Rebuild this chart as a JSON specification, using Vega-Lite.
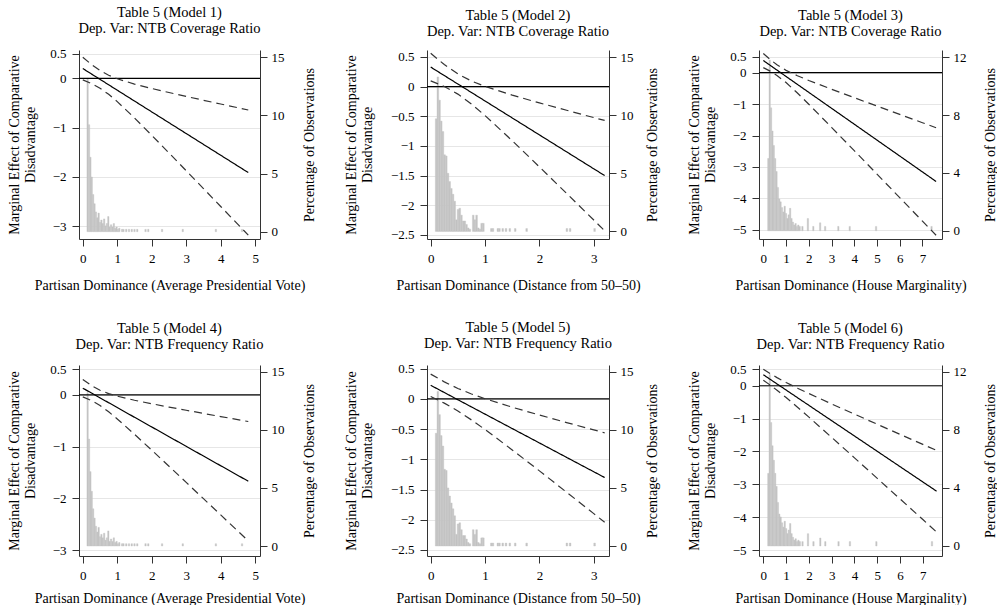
{
  "$schema": "https://vega.github.io/schema/vega-lite/v6.json",
  "padding": {"left": 7, "top": 5, "right": 0, "bottom": 0},
  "background": "white",
  "columns": 3,
  "spacing": {"row": 28, "column": 28},
  "datasets": {
    "h1": [
      {"a":0.12,"b":0.16,"pct":13.2},{"a":0.16,"b":0.20,"pct":9.2},{"a":0.20,"b":0.24,"pct":6.4},{"a":0.24,"b":0.28,"pct":4.7},
      {"a":0.28,"b":0.32,"pct":3.2},{"a":0.32,"b":0.36,"pct":2.4},{"a":0.36,"b":0.40,"pct":1.7},{"a":0.40,"b":0.44,"pct":1.2},
      {"a":0.44,"b":0.48,"pct":1.6},{"a":0.48,"b":0.52,"pct":0.8},{"a":0.52,"b":0.56,"pct":1.0},{"a":0.56,"b":0.60,"pct":0.7},
      {"a":0.60,"b":0.64,"pct":1.1},{"a":0.64,"b":0.68,"pct":0.5},{"a":0.68,"b":0.72,"pct":0.7},{"a":0.72,"b":0.76,"pct":1.3},
      {"a":0.76,"b":0.80,"pct":0.4},{"a":0.80,"b":0.84,"pct":0.6},{"a":0.84,"b":0.88,"pct":0.4},{"a":0.88,"b":0.92,"pct":0.7},
      {"a":0.92,"b":0.96,"pct":0.3},{"a":0.96,"b":1.00,"pct":0.4},{"a":1.00,"b":1.04,"pct":0.2},{"a":1.04,"b":1.08,"pct":0.3},
      {"a":1.12,"b":1.16,"pct":0.2},{"a":1.16,"b":1.20,"pct":0.2},{"a":1.24,"b":1.28,"pct":0.2},{"a":1.32,"b":1.36,"pct":0.2},
      {"a":1.40,"b":1.44,"pct":0.2},{"a":1.48,"b":1.52,"pct":0.2},{"a":1.56,"b":1.60,"pct":0.2},{"a":1.80,"b":1.84,"pct":0.2},
      {"a":1.88,"b":1.92,"pct":0.2},{"a":2.28,"b":2.32,"pct":0.2},{"a":2.88,"b":2.92,"pct":0.2},{"a":3.84,"b":3.88,"pct":0.2},
      {"a":4.60,"b":4.64,"pct":0.2}
    ],
    "h2": [
      {"a":0.085,"b":0.116,"pct":9.7},{"a":0.116,"b":0.147,"pct":13.3},{"a":0.147,"b":0.178,"pct":11.3},{"a":0.178,"b":0.209,"pct":9.5},
      {"a":0.209,"b":0.240,"pct":8.6},{"a":0.240,"b":0.271,"pct":6.6},{"a":0.271,"b":0.302,"pct":6.5},{"a":0.302,"b":0.333,"pct":5.0},
      {"a":0.333,"b":0.364,"pct":4.3},{"a":0.364,"b":0.395,"pct":3.7},{"a":0.395,"b":0.426,"pct":3.2},{"a":0.426,"b":0.457,"pct":2.6},
      {"a":0.457,"b":0.488,"pct":1.0},{"a":0.488,"b":0.519,"pct":1.9},{"a":0.519,"b":0.550,"pct":2.0},{"a":0.550,"b":0.581,"pct":1.4},
      {"a":0.581,"b":0.612,"pct":0.9},{"a":0.612,"b":0.643,"pct":0.9},{"a":0.643,"b":0.674,"pct":0.6},{"a":0.674,"b":0.705,"pct":0.3},
      {"a":0.705,"b":0.736,"pct":0.2},{"a":0.767,"b":0.798,"pct":1.4},{"a":0.798,"b":0.829,"pct":1.0},{"a":0.829,"b":0.860,"pct":1.4},
      {"a":0.860,"b":0.891,"pct":0.3},{"a":0.891,"b":0.922,"pct":0.2},{"a":0.922,"b":0.953,"pct":0.7},{"a":0.953,"b":0.984,"pct":0.7},
      {"a":1.10,"b":1.13,"pct":0.25},{"a":1.13,"b":1.16,"pct":0.25},{"a":1.22,"b":1.25,"pct":0.25},{"a":1.25,"b":1.28,"pct":0.25},
      {"a":1.31,"b":1.34,"pct":0.25},{"a":1.37,"b":1.40,"pct":0.25},{"a":1.44,"b":1.47,"pct":0.25},{"a":1.54,"b":1.57,"pct":0.25},
      {"a":1.75,"b":1.78,"pct":0.25},{"a":2.49,"b":2.52,"pct":0.25},{"a":2.55,"b":2.58,"pct":0.25},{"a":3.00,"b":3.03,"pct":0.25}
    ],
    "h3": [
      {"a":0.19,"b":0.25,"pct":5.0},{"a":0.25,"b":0.31,"pct":11.8},{"a":0.31,"b":0.37,"pct":8.5},{"a":0.37,"b":0.43,"pct":6.9},
      {"a":0.43,"b":0.49,"pct":5.9},{"a":0.49,"b":0.55,"pct":5.0},{"a":0.55,"b":0.61,"pct":4.1},{"a":0.61,"b":0.67,"pct":3.0},
      {"a":0.67,"b":0.73,"pct":2.2},{"a":0.73,"b":0.79,"pct":2.0},{"a":0.79,"b":0.85,"pct":1.6},{"a":0.85,"b":0.91,"pct":1.3},
      {"a":0.91,"b":0.97,"pct":1.7},{"a":0.97,"b":1.03,"pct":1.2},{"a":1.03,"b":1.09,"pct":0.85},{"a":1.09,"b":1.15,"pct":1.1},
      {"a":1.15,"b":1.21,"pct":1.55},{"a":1.21,"b":1.27,"pct":0.85},{"a":1.27,"b":1.33,"pct":0.6},{"a":1.33,"b":1.39,"pct":0.4},
      {"a":1.39,"b":1.45,"pct":0.5},{"a":1.45,"b":1.51,"pct":0.3},{"a":1.51,"b":1.57,"pct":0.4},{"a":1.57,"b":1.63,"pct":0.3},
      {"a":1.69,"b":1.75,"pct":0.3},{"a":1.93,"b":1.99,"pct":0.85},{"a":2.17,"b":2.23,"pct":0.3},{"a":2.47,"b":2.53,"pct":0.55},
      {"a":2.69,"b":2.75,"pct":0.3},{"a":3.27,"b":3.33,"pct":0.3},{"a":3.77,"b":3.83,"pct":0.3},{"a":4.93,"b":4.99,"pct":0.3},
      {"a":7.37,"b":7.43,"pct":0.3}
    ],
    "l1": [
      {"x":0,"est":0.2,"upper":0.43,"lower":-0.03},{"x":0.25,"est":0.09,"upper":0.283,"lower":-0.103},
      {"x":0.5,"est":-0.02,"upper":0.159,"lower":-0.199},{"x":0.75,"est":-0.13,"upper":0.064,"lower":-0.324},
      {"x":1,"est":-0.24,"upper":-0.008,"lower":-0.472},{"x":1.5,"est":-0.46,"upper":-0.116,"lower":-0.804},
      {"x":2,"est":-0.68,"upper":-0.205,"lower":-1.155},{"x":2.5,"est":-0.9,"upper":-0.287,"lower":-1.513},
      {"x":3,"est":-1.12,"upper":-0.366,"lower":-1.874},{"x":3.5,"est":-1.34,"upper":-0.444,"lower":-2.236},
      {"x":4,"est":-1.56,"upper":-0.52,"lower":-2.6},{"x":4.8,"est":-1.912,"upper":-0.642,"lower":-3.182}
    ],
    "l2": [
      {"x":0,"est":0.33,"upper":0.562,"lower":0.098},{"x":0.25,"est":0.187,"upper":0.372,"lower":0.002},
      {"x":0.5,"est":0.044,"upper":0.214,"lower":-0.126},{"x":0.75,"est":-0.099,"upper":0.095,"lower":-0.293},
      {"x":1,"est":-0.242,"upper":0.004,"lower":-0.488},{"x":1.5,"est":-0.528,"upper":-0.144,"lower":-0.912},
      {"x":2,"est":-0.814,"upper":-0.274,"lower":-1.354},{"x":2.5,"est":-1.1,"upper":-0.399,"lower":-1.801},
      {"x":3,"est":-1.386,"upper":-0.522,"lower":-2.25},{"x":3.2,"est":-1.5,"upper":-0.57,"lower":-2.43}
    ],
    "l3": [
      {"x":0,"est":0.385,"upper":0.61,"lower":0.16},{"x":0.3,"est":0.233,"upper":0.418,"lower":0.048},
      {"x":0.6,"est":0.081,"upper":0.25,"lower":-0.088},{"x":1,"est":-0.121,"upper":0.073,"lower":-0.315},
      {"x":1.5,"est":-0.374,"upper":-0.099,"lower":-0.649},{"x":2,"est":-0.627,"upper":-0.249,"lower":-1.005},
      {"x":3,"est":-1.133,"upper":-0.527,"lower":-1.739},{"x":4,"est":-1.639,"upper":-0.797,"lower":-2.481},
      {"x":5,"est":-2.145,"upper":-1.063,"lower":-3.227},{"x":6,"est":-2.651,"upper":-1.328,"lower":-3.974},
      {"x":7,"est":-3.157,"upper":-1.592,"lower":-4.722},{"x":7.6,"est":-3.461,"upper":-1.751,"lower":-5.171}
    ],
    "l4": [
      {"x":0,"est":0.13,"upper":0.298,"lower":-0.038},{"x":0.25,"est":0.036,"upper":0.18,"lower":-0.108},
      {"x":0.5,"est":-0.058,"upper":0.09,"lower":-0.206},{"x":0.75,"est":-0.151,"upper":0.025,"lower":-0.327},
      {"x":1,"est":-0.245,"upper":-0.025,"lower":-0.465},{"x":1.5,"est":-0.433,"upper":-0.104,"lower":-0.762},
      {"x":2,"est":-0.62,"upper":-0.171,"lower":-1.069},{"x":2.5,"est":-0.808,"upper":-0.236,"lower":-1.38},
      {"x":3,"est":-0.995,"upper":-0.297,"lower":-1.693},{"x":3.5,"est":-1.183,"upper":-0.359,"lower":-2.007},
      {"x":4,"est":-1.37,"upper":-0.419,"lower":-2.321},{"x":4.8,"est":-1.67,"upper":-0.515,"lower":-2.825}
    ],
    "l5": [
      {"x":0,"est":0.225,"upper":0.41,"lower":0.04},{"x":0.25,"est":0.106,"upper":0.282,"lower":-0.07},
      {"x":0.5,"est":-0.014,"upper":0.173,"lower":-0.201},{"x":0.75,"est":-0.133,"upper":0.082,"lower":-0.348},
      {"x":1,"est":-0.252,"upper":0.003,"lower":-0.507},{"x":1.5,"est":-0.491,"upper":-0.138,"lower":-0.844},
      {"x":2,"est":-0.729,"upper":-0.267,"lower":-1.191},{"x":2.5,"est":-0.968,"upper":-0.392,"lower":-1.544},
      {"x":3,"est":-1.206,"upper":-0.513,"lower":-1.899},{"x":3.2,"est":-1.301,"upper":-0.561,"lower":-2.041}
    ],
    "l6": [
      {"x":0,"est":0.334,"upper":0.504,"lower":0.164},{"x":0.3,"est":0.194,"upper":0.368,"lower":0.02},
      {"x":0.6,"est":0.054,"upper":0.246,"lower":-0.138},{"x":1,"est":-0.132,"upper":0.097,"lower":-0.361},
      {"x":1.5,"est":-0.365,"upper":-0.075,"lower":-0.655},{"x":2,"est":-0.598,"upper":-0.239,"lower":-0.957},
      {"x":3,"est":-1.064,"upper":-0.555,"lower":-1.573},{"x":4,"est":-1.53,"upper":-0.866,"lower":-2.194},
      {"x":5,"est":-1.996,"upper":-1.173,"lower":-2.819},{"x":6,"est":-2.462,"upper":-1.479,"lower":-3.445},
      {"x":7,"est":-2.928,"upper":-1.785,"lower":-4.071},{"x":7.6,"est":-3.208,"upper":-1.968,"lower":-4.448}
    ]
  },
  "concat": [
    {
      "width": 181, "height": 189,
      "title": {"text": ["Table 5 (Model 1)", "Dep. Var: NTB Coverage Ratio"]},
      "resolve": {"scale": {"y": "independent"}},
      "layer": [
        {"data": {"name": "h1"}, "mark": {"type": "rect", "color": "#c4c4c4", "stroke": "#c4c4c4", "strokeWidth": 0.4},
         "encoding": {
           "x": {"field": "a", "type": "quantitative", "scale": {"domain": [-0.11, 5.14], "nice": false, "zero": false}, "axis": {"values": [0,1,2,3,4,5], "title": "Partisan Dominance (Average Presidential Vote)", "titlePadding": 13}},
           "x2": {"field": "b"},
           "y": {"field": "pct", "type": "quantitative", "scale": {"domain": [-0.63, 15.62], "nice": false, "zero": false}, "axis": {"orient": "right", "values": [0,5,10,15], "title": "Percentage of Observations", "titleAngle": 270, "titleBaseline": "top", "labelPadding": 4, "titlePadding": 14, "minExtent": 28, "maxExtent": 28}},
           "y2": {"datum": 0}}},
        {"layer": [
          {"data": {"values": [{"y": 0}]}, "mark": {"type": "rule", "color": "#000000", "strokeWidth": 1.1},
           "encoding": {"y": {"field": "y", "type": "quantitative", "scale": {"domain": [-3.26, 0.576], "nice": false, "zero": false}, "axis": {"orient": "left", "values": [0.5,0,-1,-2,-3], "format": "~g", "grid": true, "gridColor": "#e6e6e6", "title": ["Marginal Effect of Comparative", "Disadvantage"], "titlePadding": 13, "minExtent": 29, "maxExtent": 29}}}},
          {"data": {"name": "l1"}, "transform": [{"fold": ["est","upper","lower"], "as": ["s","y"]}],
           "mark": {"type": "line", "strokeWidth": 1.2},
           "encoding": {
             "x": {"field": "x", "type": "quantitative", "scale": {"domain": [-0.11, 5.14], "nice": false, "zero": false}, "axis": {"values": [0,1,2,3,4,5], "title": "Partisan Dominance (Average Presidential Vote)", "titlePadding": 13}},
             "y": {"field": "y", "type": "quantitative", "scale": {"domain": [-3.26, 0.576], "nice": false, "zero": false}, "axis": {"orient": "left", "values": [0.5,0,-1,-2,-3], "format": "~g", "grid": true, "gridColor": "#e6e6e6", "title": ["Marginal Effect of Comparative", "Disadvantage"], "titlePadding": 13, "minExtent": 29, "maxExtent": 29}},
             "detail": {"field": "s"},
             "color": {"field": "s", "type": "nominal", "scale": {"domain": ["est","lower","upper"], "range": ["#000000","#333333","#333333"]}, "legend": null},
             "strokeDash": {"field": "s", "type": "nominal", "scale": {"domain": ["est","lower","upper"], "range": [[1,0],[8,5],[8,5]]}, "legend": null}}}
        ]}
      ]
    },
    {
      "width": 182, "height": 189,
      "title": {"text": ["Table 5 (Model 2)", "Dep. Var: NTB Coverage Ratio"]},
      "resolve": {"scale": {"y": "independent"}},
      "layer": [
        {"data": {"name": "h2"}, "mark": {"type": "rect", "color": "#c4c4c4", "stroke": "#c4c4c4", "strokeWidth": 0.4},
         "encoding": {
           "x": {"field": "a", "type": "quantitative", "scale": {"domain": [-0.068, 3.28], "nice": false, "zero": false}, "axis": {"values": [0,1,2,3], "title": "Partisan Dominance (Distance from 50–50)", "titlePadding": 13}},
           "x2": {"field": "b"},
           "y": {"field": "pct", "type": "quantitative", "scale": {"domain": [-0.65, 15.62], "nice": false, "zero": false}, "axis": {"orient": "right", "values": [0,5,10,15], "title": "Percentage of Observations", "titleAngle": 270, "titleBaseline": "top", "labelPadding": 4, "titlePadding": 14, "minExtent": 22, "maxExtent": 22}},
           "y2": {"datum": 0}}},
        {"layer": [
          {"data": {"values": [{"y": 0}]}, "mark": {"type": "rule", "color": "#000000", "strokeWidth": 1.1},
           "encoding": {"y": {"field": "y", "type": "quantitative", "scale": {"domain": [-2.57, 0.618], "nice": false, "zero": false}, "axis": {"orient": "left", "values": [0.5,0,-0.5,-1,-1.5,-2,-2.5], "format": "~g", "grid": true, "gridColor": "#e6e6e6", "title": ["Marginal Effect of Comparative", "Disadvantage"], "titlePadding": 13, "minExtent": 40, "maxExtent": 40}}}},
          {"data": {"name": "l2"}, "transform": [{"fold": ["est","upper","lower"], "as": ["s","y"]}],
           "mark": {"type": "line", "strokeWidth": 1.2},
           "encoding": {
             "x": {"field": "x", "type": "quantitative", "scale": {"domain": [-0.068, 3.28], "nice": false, "zero": false}, "axis": {"values": [0,1,2,3], "title": "Partisan Dominance (Distance from 50–50)", "titlePadding": 13}},
             "y": {"field": "y", "type": "quantitative", "scale": {"domain": [-2.57, 0.618], "nice": false, "zero": false}, "axis": {"orient": "left", "values": [0.5,0,-0.5,-1,-1.5,-2,-2.5], "format": "~g", "grid": true, "gridColor": "#e6e6e6", "title": ["Marginal Effect of Comparative", "Disadvantage"], "titlePadding": 13, "minExtent": 40, "maxExtent": 40}},
             "detail": {"field": "s"},
             "color": {"field": "s", "type": "nominal", "scale": {"domain": ["est","lower","upper"], "range": ["#000000","#333333","#333333"]}, "legend": null},
             "strokeDash": {"field": "s", "type": "nominal", "scale": {"domain": ["est","lower","upper"], "range": [[1,0],[8,5],[8,5]]}, "legend": null}}}
        ]}
      ]
    },
    {
      "width": 183, "height": 189,
      "title": {"text": ["Table 5 (Model 3)", "Dep. Var: NTB Coverage Ratio"]},
      "resolve": {"scale": {"y": "independent"}},
      "layer": [
        {"data": {"name": "h3"}, "mark": {"type": "rect", "color": "#c4c4c4", "stroke": "#c4c4c4", "strokeWidth": 0.4},
         "encoding": {
           "x": {"field": "a", "type": "quantitative", "scale": {"domain": [-0.19, 7.86], "nice": false, "zero": false}, "axis": {"values": [0,1,2,3,4,5,6,7], "title": "Partisan Dominance (House Marginality)", "titlePadding": 13}},
           "x2": {"field": "b"},
           "y": {"field": "pct", "type": "quantitative", "scale": {"domain": [-0.57, 12.5], "nice": false, "zero": false}, "axis": {"orient": "right", "values": [0,4,8,12], "title": "Percentage of Observations", "titleAngle": 270, "titleBaseline": "top", "labelPadding": 4, "titlePadding": 14, "minExtent": 27, "maxExtent": 27}},
           "y2": {"datum": 0}}},
        {"layer": [
          {"data": {"values": [{"y": 0}]}, "mark": {"type": "rule", "color": "#000000", "strokeWidth": 1.1},
           "encoding": {"y": {"field": "y", "type": "quantitative", "scale": {"domain": [-5.29, 0.72], "nice": false, "zero": false}, "axis": {"orient": "left", "values": [0.5,0,-1,-2,-3,-4,-5], "format": "~g", "grid": true, "gridColor": "#e6e6e6", "title": ["Marginal Effect of Comparative", "Disadvantage"], "titlePadding": 13, "minExtent": 29, "maxExtent": 29}}}},
          {"data": {"name": "l3"}, "transform": [{"fold": ["est","upper","lower"], "as": ["s","y"]}],
           "mark": {"type": "line", "strokeWidth": 1.2},
           "encoding": {
             "x": {"field": "x", "type": "quantitative", "scale": {"domain": [-0.19, 7.86], "nice": false, "zero": false}, "axis": {"values": [0,1,2,3,4,5,6,7], "title": "Partisan Dominance (House Marginality)", "titlePadding": 13}},
             "y": {"field": "y", "type": "quantitative", "scale": {"domain": [-5.29, 0.72], "nice": false, "zero": false}, "axis": {"orient": "left", "values": [0.5,0,-1,-2,-3,-4,-5], "format": "~g", "grid": true, "gridColor": "#e6e6e6", "title": ["Marginal Effect of Comparative", "Disadvantage"], "titlePadding": 13, "minExtent": 29, "maxExtent": 29}},
             "detail": {"field": "s"},
             "color": {"field": "s", "type": "nominal", "scale": {"domain": ["est","lower","upper"], "range": ["#000000","#333333","#333333"]}, "legend": null},
             "strokeDash": {"field": "s", "type": "nominal", "scale": {"domain": ["est","lower","upper"], "range": [[1,0],[8,5],[8,5]]}, "legend": null}}}
        ]}
      ]
    },
    {
      "width": 181, "height": 191,
      "title": {"text": ["Table 5 (Model 4)", "Dep. Var: NTB Frequency Ratio"]},
      "resolve": {"scale": {"y": "independent"}},
      "layer": [
        {"data": {"name": "h1"}, "mark": {"type": "rect", "color": "#c4c4c4", "stroke": "#c4c4c4", "strokeWidth": 0.4},
         "encoding": {
           "x": {"field": "a", "type": "quantitative", "scale": {"domain": [-0.11, 5.14], "nice": false, "zero": false}, "axis": {"values": [0,1,2,3,4,5], "title": "Partisan Dominance (Average Presidential Vote)", "titlePadding": 9}},
           "x2": {"field": "b"},
           "y": {"field": "pct", "type": "quantitative", "scale": {"domain": [-0.86, 15.57], "nice": false, "zero": false}, "axis": {"orient": "right", "values": [0,5,10,15], "title": "Percentage of Observations", "titleAngle": 270, "titleBaseline": "top", "labelPadding": 4, "titlePadding": 14, "minExtent": 28, "maxExtent": 28}},
           "y2": {"datum": 0}}},
        {"layer": [
          {"data": {"values": [{"y": 0}]}, "mark": {"type": "rule", "color": "#000000", "strokeWidth": 1.1},
           "encoding": {"y": {"field": "y", "type": "quantitative", "scale": {"domain": [-3.116, 0.578], "nice": false, "zero": false}, "axis": {"orient": "left", "values": [0.5,0,-1,-2,-3], "format": "~g", "grid": true, "gridColor": "#e6e6e6", "title": ["Marginal Effect of Comparative", "Disadvantage"], "titlePadding": 13, "minExtent": 29, "maxExtent": 29}}}},
          {"data": {"name": "l4"}, "transform": [{"fold": ["est","upper","lower"], "as": ["s","y"]}],
           "mark": {"type": "line", "strokeWidth": 1.2},
           "encoding": {
             "x": {"field": "x", "type": "quantitative", "scale": {"domain": [-0.11, 5.14], "nice": false, "zero": false}, "axis": {"values": [0,1,2,3,4,5], "title": "Partisan Dominance (Average Presidential Vote)", "titlePadding": 9}},
             "y": {"field": "y", "type": "quantitative", "scale": {"domain": [-3.116, 0.578], "nice": false, "zero": false}, "axis": {"orient": "left", "values": [0.5,0,-1,-2,-3], "format": "~g", "grid": true, "gridColor": "#e6e6e6", "title": ["Marginal Effect of Comparative", "Disadvantage"], "titlePadding": 13, "minExtent": 29, "maxExtent": 29}},
             "detail": {"field": "s"},
             "color": {"field": "s", "type": "nominal", "scale": {"domain": ["est","lower","upper"], "range": ["#000000","#333333","#333333"]}, "legend": null},
             "strokeDash": {"field": "s", "type": "nominal", "scale": {"domain": ["est","lower","upper"], "range": [[1,0],[8,5],[8,5]]}, "legend": null}}}
        ]}
      ]
    },
    {
      "width": 182, "height": 191,
      "title": {"text": ["Table 5 (Model 5)", "Dep. Var: NTB Frequency Ratio"]},
      "resolve": {"scale": {"y": "independent"}},
      "layer": [
        {"data": {"name": "h2"}, "mark": {"type": "rect", "color": "#c4c4c4", "stroke": "#c4c4c4", "strokeWidth": 0.4},
         "encoding": {
           "x": {"field": "a", "type": "quantitative", "scale": {"domain": [-0.068, 3.28], "nice": false, "zero": false}, "axis": {"values": [0,1,2,3], "title": "Partisan Dominance (Distance from 50–50)", "titlePadding": 9}},
           "x2": {"field": "b"},
           "y": {"field": "pct", "type": "quantitative", "scale": {"domain": [-0.86, 15.57], "nice": false, "zero": false}, "axis": {"orient": "right", "values": [0,5,10,15], "title": "Percentage of Observations", "titleAngle": 270, "titleBaseline": "top", "labelPadding": 4, "titlePadding": 14, "minExtent": 22, "maxExtent": 22}},
           "y2": {"datum": 0}}},
        {"layer": [
          {"data": {"values": [{"y": 0}]}, "mark": {"type": "rule", "color": "#000000", "strokeWidth": 1.1},
           "encoding": {"y": {"field": "y", "type": "quantitative", "scale": {"domain": [-2.6, 0.561], "nice": false, "zero": false}, "axis": {"orient": "left", "values": [0.5,0,-0.5,-1,-1.5,-2,-2.5], "format": "~g", "grid": true, "gridColor": "#e6e6e6", "title": ["Marginal Effect of Comparative", "Disadvantage"], "titlePadding": 13, "minExtent": 40, "maxExtent": 40}}}},
          {"data": {"name": "l5"}, "transform": [{"fold": ["est","upper","lower"], "as": ["s","y"]}],
           "mark": {"type": "line", "strokeWidth": 1.2},
           "encoding": {
             "x": {"field": "x", "type": "quantitative", "scale": {"domain": [-0.068, 3.28], "nice": false, "zero": false}, "axis": {"values": [0,1,2,3], "title": "Partisan Dominance (Distance from 50–50)", "titlePadding": 9}},
             "y": {"field": "y", "type": "quantitative", "scale": {"domain": [-2.6, 0.561], "nice": false, "zero": false}, "axis": {"orient": "left", "values": [0.5,0,-0.5,-1,-1.5,-2,-2.5], "format": "~g", "grid": true, "gridColor": "#e6e6e6", "title": ["Marginal Effect of Comparative", "Disadvantage"], "titlePadding": 13, "minExtent": 40, "maxExtent": 40}},
             "detail": {"field": "s"},
             "color": {"field": "s", "type": "nominal", "scale": {"domain": ["est","lower","upper"], "range": ["#000000","#333333","#333333"]}, "legend": null},
             "strokeDash": {"field": "s", "type": "nominal", "scale": {"domain": ["est","lower","upper"], "range": [[1,0],[8,5],[8,5]]}, "legend": null}}}
        ]}
      ]
    },
    {
      "width": 183, "height": 191,
      "title": {"text": ["Table 5 (Model 6)", "Dep. Var: NTB Frequency Ratio"]},
      "resolve": {"scale": {"y": "independent"}},
      "layer": [
        {"data": {"name": "h3"}, "mark": {"type": "rect", "color": "#c4c4c4", "stroke": "#c4c4c4", "strokeWidth": 0.4},
         "encoding": {
           "x": {"field": "a", "type": "quantitative", "scale": {"domain": [-0.19, 7.84], "nice": false, "zero": false}, "axis": {"values": [0,1,2,3,4,5,6,7], "title": "Partisan Dominance (House Marginality)", "titlePadding": 9}},
           "x2": {"field": "b"},
           "y": {"field": "pct", "type": "quantitative", "scale": {"domain": [-0.69, 12.46], "nice": false, "zero": false}, "axis": {"orient": "right", "values": [0,4,8,12], "title": "Percentage of Observations", "titleAngle": 270, "titleBaseline": "top", "labelPadding": 4, "titlePadding": 14, "minExtent": 27, "maxExtent": 27}},
           "y2": {"datum": 0}}},
        {"layer": [
          {"data": {"values": [{"y": 0}]}, "mark": {"type": "rule", "color": "#000000", "strokeWidth": 1.1},
           "encoding": {"y": {"field": "y", "type": "quantitative", "scale": {"domain": [-5.18, 0.63], "nice": false, "zero": false}, "axis": {"orient": "left", "values": [0.5,0,-1,-2,-3,-4,-5], "format": "~g", "grid": true, "gridColor": "#e6e6e6", "title": ["Marginal Effect of Comparative", "Disadvantage"], "titlePadding": 13, "minExtent": 29, "maxExtent": 29}}}},
          {"data": {"name": "l6"}, "transform": [{"fold": ["est","upper","lower"], "as": ["s","y"]}],
           "mark": {"type": "line", "strokeWidth": 1.2},
           "encoding": {
             "x": {"field": "x", "type": "quantitative", "scale": {"domain": [-0.19, 7.84], "nice": false, "zero": false}, "axis": {"values": [0,1,2,3,4,5,6,7], "title": "Partisan Dominance (House Marginality)", "titlePadding": 9}},
             "y": {"field": "y", "type": "quantitative", "scale": {"domain": [-5.18, 0.63], "nice": false, "zero": false}, "axis": {"orient": "left", "values": [0.5,0,-1,-2,-3,-4,-5], "format": "~g", "grid": true, "gridColor": "#e6e6e6", "title": ["Marginal Effect of Comparative", "Disadvantage"], "titlePadding": 13, "minExtent": 29, "maxExtent": 29}},
             "detail": {"field": "s"},
             "color": {"field": "s", "type": "nominal", "scale": {"domain": ["est","lower","upper"], "range": ["#000000","#333333","#333333"]}, "legend": null},
             "strokeDash": {"field": "s", "type": "nominal", "scale": {"domain": ["est","lower","upper"], "range": [[1,0],[8,5],[8,5]]}, "legend": null}}}
        ]}
      ]
    }
  ],
  "config": {
    "view": {"stroke": null},
    "font": "Liberation Serif",
    "title": {"font": "Liberation Serif", "fontSize": 14.5, "fontWeight": "normal", "color": "#000000", "lineHeight": 16, "offset": 11, "frame": "group", "anchor": "middle"},
    "axis": {"labelFont": "Liberation Serif", "labelFontSize": 13, "labelColor": "#000000", "titleFont": "Liberation Serif", "titleFontSize": 14, "titleFontWeight": "normal", "titleColor": "#000000", "titleLineHeight": 16, "domainColor": "#333333", "tickColor": "#333333", "tickSize": 7, "labelPadding": 6, "labelFlush": false, "labelOverlap": false, "grid": false}
  }
}
